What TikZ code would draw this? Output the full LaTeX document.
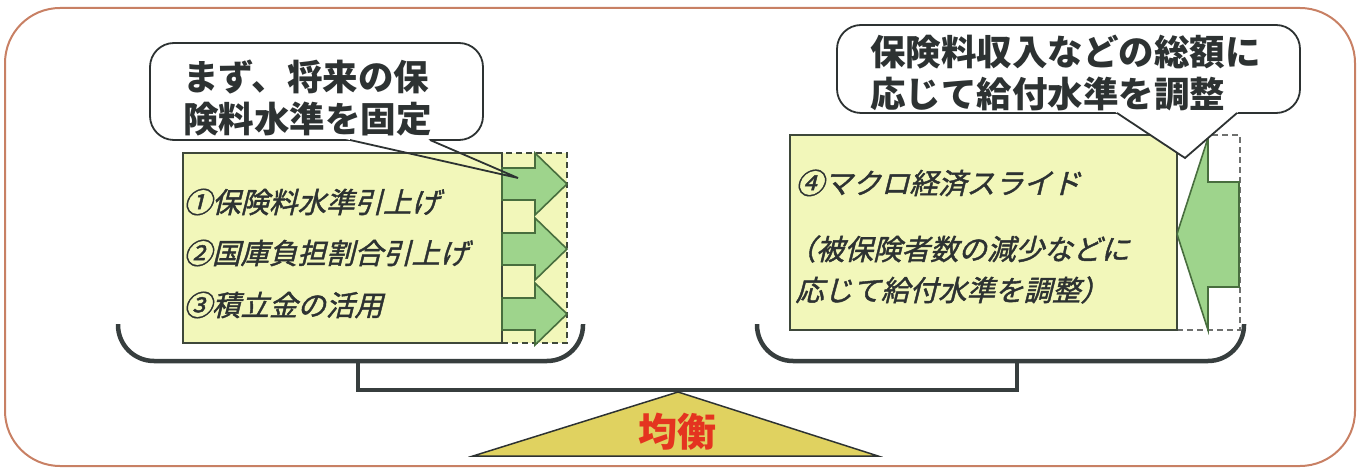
\documentclass[tikz,border=0pt]{standalone}
\usepackage{fontspec}
\newfontfamily\jp{Noto Sans CJK JP}
\newfontfamily\jpit{Noto Sans CJK JP}[FakeBold=1.5]
\definecolor{outerc}{RGB}{200,128,100}
\definecolor{ink}{RGB}{45,50,50}
\definecolor{boxfill}{RGB}{242,247,186}
\definecolor{boxline}{RGB}{62,72,58}
\definecolor{arrowfill}{RGB}{158,212,140}
\definecolor{arrowline}{RGB}{72,110,62}
\definecolor{bracketc}{RGB}{55,62,62}
\definecolor{trifill}{RGB}{224,210,96}
\definecolor{balred}{RGB}{228,52,32}
\definecolor{dashgray}{RGB}{110,112,110}
\tikzset{
  outerbox/.style={draw=outerc, line width=2pt, rounded corners=55pt},
  panel/.style={draw=boxline, fill=boxfill, line width=2pt, inner sep=0pt},
  dashpanel/.style={line width=1.6pt, dash pattern=on 6pt off 4pt, inner sep=0pt},
  blockarrow/.style={fill=arrowfill, draw=arrowline, line width=1.6pt, line join=miter},
  bracket/.style={draw=bracketc, line width=4.5pt, rounded corners=36pt},
  beam/.style={draw=bracketc, line width=4.5pt},
  fulcrum/.style={fill=trifill, draw=ink, line width=1.5pt},
  bubble/.style={draw=ink, fill=white, line width=1.8pt, rounded corners=24pt, inner sep=0pt},
  bubbletail/.style={draw=ink, line width=1.8pt, line join=miter},
  calloutlabel/.style={font=\jp\bfseries\fontsize{35.5}{42}\selectfont, text=ink, align=left, inner sep=0pt, anchor=west},
  itemlabel/.style={font=\jpit\fontsize{28.5}{34}\selectfont, text=ink, inner sep=0pt, anchor=west, transform shape},
  slanted/.style={xslant=0.25},
}
\begin{document}
\begin{tikzpicture}[x=1pt,y=-1pt]
\useasboundingbox (0,0) rectangle (1362,470);
% outer frame
\draw[outerbox] (5,8) rectangle (1355,466);

% balance: brackets, beam, fulcrum
\draw[bracket] (118,324) -- (118,361) -- (583,361) -- (583,324);
\draw[bracket] (757,324) -- (757,361) -- (1244,361) -- (1244,324);
\coordinate (lbeam) at (358,361);
\coordinate (rbeam) at (1017,361);
\draw[beam] (lbeam) -- ++(0,29) -| (rbeam);
\draw[fulcrum] (678,392) -- (878,456) -- (473,456) -- cycle;
\node[font=\jp\bfseries\fontsize{39}{40}\selectfont, text=balred, inner sep=0pt] (bal) at (677,432) {均衡};

% left panel
\node[dashpanel, draw=boxline, fill=boxfill, minimum width=65pt, minimum height=190pt] (ldash) at (534.5,248) {};
\node[panel, minimum width=319pt, minimum height=190pt] (lbox) at (342.5,248) {};
\foreach \cy in {184,249,314}{
  \draw[blockarrow] (502,{\cy-16}) -- (535,{\cy-16}) -- (535,{\cy-31}) -- (567,\cy)
     -- (535,{\cy+31}) -- (535,{\cy+16}) -- (502,{\cy+16}) -- cycle;
}
\begin{scope}[shift={(186,202)}, slanted]
  \node[itemlabel] (litem1) at (0,0) {①保険料水準引上げ};
\end{scope}
\begin{scope}[shift={(186,253)}, slanted]
  \node[itemlabel] (litem2) at (0,0) {②国庫負担割合引上げ};
\end{scope}
\begin{scope}[shift={(186,305)}, slanted]
  \node[itemlabel] (litem3) at (0,0) {③積立金の活用};
\end{scope}

% right panel
\node[dashpanel, draw=dashgray, fill=white, minimum width=63pt, minimum height=195pt] (rdash) at (1208.5,232.5) {};
\node[panel, minimum width=387pt, minimum height=195pt] (rbox) at (983.5,232.5) {};
\draw[blockarrow] (1239,182) -- (1208,182) -- (1208,138) -- (1177,234) -- (1208,330) -- (1208,287) -- (1239,287) -- cycle;
\begin{scope}[shift={(798,183)}, slanted]
  \node[itemlabel] (ritem1) at (0,0) {④マクロ経済スライド};
\end{scope}
\begin{scope}[shift={(790,249)}, slanted]
  \node[itemlabel] (ritem2) at (0,0) {（被保険者数の減少などに};
\end{scope}
\begin{scope}[shift={(798,290)}, slanted]
  \node[itemlabel] (ritem3) at (0,0) {応じて給付水準を調整）};
\end{scope}

% left callout
\node[bubble, minimum width=333pt, minimum height=97pt] (b1) at (316.5,91.5) {};
\fill[white] (325,134.3) -- (358.8,142) -- (434.6,142) -- (417,134.3) -- cycle;
\draw[bubbletail] (350,140) -- (518,178) -- (430,140);
\node[calloutlabel] (b1text) at (183,97.5) {まず、将来の保\\険料水準を固定};

% right callout
\node[bubble, minimum width=463pt, minimum height=88pt] (b2) at (1068.5,69) {};
\fill[white] (1108.8,107.6) -- (1185,158) -- (1243.2,107.6) -- cycle;
\draw[bubbletail] (1117,113) -- (1185,158) -- (1237,113);
\node[calloutlabel] (b2text) at (870,73.5) {保険料収入などの総額に\\応じて給付水準を調整};
\end{tikzpicture}
\end{document}
